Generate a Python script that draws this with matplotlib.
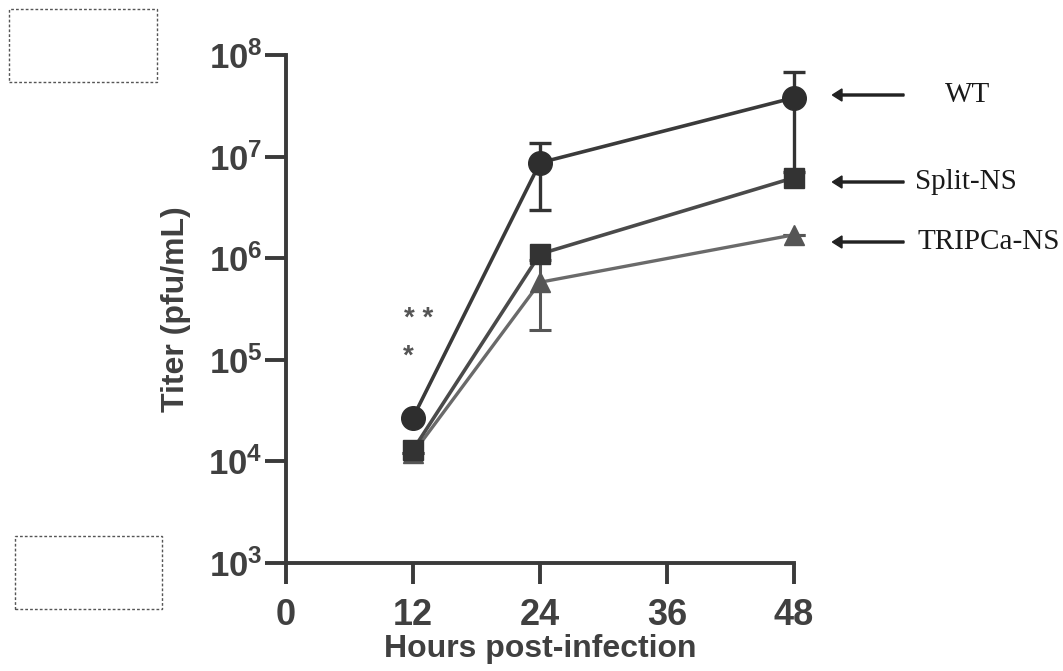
import numpy as np
import matplotlib
matplotlib.use("Agg")
import matplotlib.pyplot as plt
from matplotlib.patches import Rectangle, FancyArrow

plt.rcParams['font.family'] = ['Liberation Sans', 'DejaVu Sans']
plt.rcParams['mathtext.fontset'] = 'custom'
plt.rcParams['mathtext.rm'] = 'Liberation Sans:bold'
plt.rcParams['mathtext.bf'] = 'Liberation Sans:bold'

# titers (pfu/mL) at each time point
hours = [12, 24, 48]
wt = [2.7e4, 8.7e6, 3.8e7]
wt_lo = [2.7e4, 3.0e6, 7.0e6]
wt_hi = [2.7e4, 1.35e7, 6.8e7]
split_ns = [1.3e4, 1.1e6, 6.2e6]
tripca_ns = [1.2e4, 5.8e5, 1.7e6]
tripca_lo = [1.2e4, 1.95e5, 1.7e6]
tripca_hi = [1.2e4, 9.6e5, 1.7e6]

xticks = [0, 12, 24, 36, 48]
yticks = [1e3, 1e4, 1e5, 1e6, 1e7, 1e8]
ytick_labels = [r'$\mathbf{10^{%d}}$' % e for e in range(3, 9)]
series_names = ['WT', 'Split-NS', 'TRIPCa-NS']

W, H = 1063, 671
fig = plt.figure(figsize=(W / 100, H / 100), dpi=100)
ax = fig.add_axes([286 / W, 1 - 563 / H, 508 / W, 508 / H])

axc = '#3a3a3a'
txc = '#404040'
ax.set_xlim(0, 48)
ax.set_yscale('log')
ax.set_ylim(1e3, 1e8)
ax.set_xticks(xticks)
ax.set_xticklabels([str(t) for t in xticks])
ax.set_yticks(yticks)
ax.set_yticklabels(ytick_labels)
ax.yaxis.set_minor_locator(matplotlib.ticker.NullLocator())
for s in ['top', 'right']:
    ax.spines[s].set_visible(False)
for s in ['left', 'bottom']:
    ax.spines[s].set_linewidth(2.8)
    ax.spines[s].set_color(axc)
    ax.spines[s].set_capstyle('projecting')
ax.tick_params(axis='both', direction='out', length=15, width=2.8, color=axc,
               labelcolor=txc)
ax.tick_params(axis='x', pad=10, labelsize=26)
ax.tick_params(axis='y', pad=2, labelsize=25)
for lab in ax.get_xticklabels():
    lab.set_fontweight('bold')

ax.set_xlabel('Hours post-infection', fontsize=23, fontweight='heavy',
              color=txc, labelpad=1)
ax.set_ylabel('Titer (pfu/mL)', fontsize=23, fontweight='heavy',
              color=txc, labelpad=12)

h = np.array(hours)
ax.errorbar(h, wt, yerr=[np.array(wt) - wt_lo, np.array(wt_hi) - wt],
            fmt='none', ecolor='#333333', elinewidth=2.4, capsize=8,
            capthick=2.4, zorder=2, clip_on=False)
ax.errorbar(h, tripca_ns, yerr=[np.array(tripca_ns) - tripca_lo,
                                np.array(tripca_hi) - tripca_ns],
            fmt='none', ecolor='#555555', elinewidth=2.2, capsize=8,
            capthick=2.2, zorder=2, clip_on=False)

ax.plot(h, tripca_ns, color='#6a6a6a', lw=2.4, marker='^', ms=14,
        mfc='#555555', mec='#555555', zorder=3, clip_on=False)
ax.plot(h, split_ns, color='#4a4a4a', lw=2.6, marker='s', ms=15,
        mfc='#333333', mec='#333333', zorder=4, clip_on=False)
ax.plot(h, wt, color='#3a3a3a', lw=2.6, marker='o', ms=17,
        mfc='#2e2e2e', mec='#2e2e2e', zorder=5, clip_on=False)

# significance marks at 12 h
ax.text(12.5, 10 ** 5.40, '* *', fontsize=20, fontweight='bold',
        color='#555555', ha='center', va='center')
ax.text(11.55, 10 ** 5.03, '*', fontsize=20, fontweight='bold',
        color='#555555', ha='center', va='center')

# series labels with arrows
label_y = [95, 182, 242]
label_x = [945, 915, 918]
for name, py, px in zip(series_names, label_y, label_x):
    fig.patches.append(FancyArrow(
        904 / W, 1 - py / H, -62 / W, 0, width=0.003, head_width=0.018,
        head_length=0.009, length_includes_head=False, color='#222222',
        transform=fig.transFigure, figure=fig))
    fig.text(px / W, 1 - py / H, name, fontsize=21, family='Liberation Serif',
             color='#1a1a1a', ha='left', va='center')

# dashed placeholder boxes
for x0, y0, x1, y1 in [(9, 9, 157, 82), (15, 536, 162, 609)]:
    fig.patches.append(Rectangle((x0 / W, 1 - y1 / H), (x1 - x0) / W,
                                 (y1 - y0) / H, transform=fig.transFigure,
                                 fill=False, ec='#555555', lw=1.0,
                                 ls=(0, (2, 1.5)), figure=fig))

fig.savefig('out.png', dpi=100)
